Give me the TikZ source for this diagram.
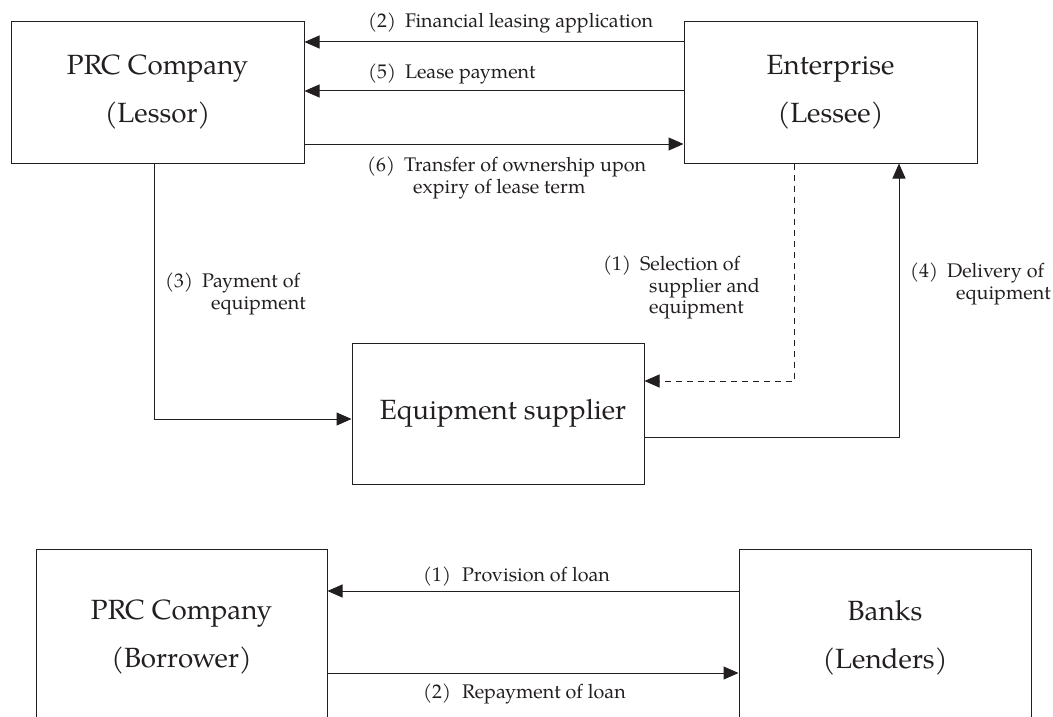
\documentclass[tikz,border=0pt]{standalone}
\usepackage{fontspec}
\setmainfont{TeX Gyre Pagella}
\usetikzlibrary{arrows.meta}
\definecolor{ink}{RGB}{35,31,32}
\tikzset{
  box/.style={draw=ink, line width=1pt, rectangle, align=center, inner sep=0pt,
    text=ink, font=\fontsize{27.8}{48}\selectfont},
  lab/.style={anchor=north west, inner sep=0pt, align=left, text=ink,
    font=\fontsize{19.7}{21.5}\selectfont},
  arr/.style={draw=ink, line width=1pt, -{Triangle[length=15pt,width=13pt]}},
  dash arr/.style={arr, dash pattern=on 6pt off 5pt}
}
\begin{document}
\begin{tikzpicture}[x=1pt,y=-1pt]
\useasboundingbox (0,0) rectangle (1053,717);
\clip (0,0) rectangle (1053,717);
\fill[white] (0,0) rectangle (1053,717);
% boxes
\node[box, minimum width=293pt, minimum height=141pt] (lessor) at (157.5,92.5) {PRC Company\\(Lessor)};
\node[box, minimum width=293pt, minimum height=141pt] (lessee) at (830.5,92.5) {Enterprise\\(Lessee)};
\node[box, minimum width=292pt, minimum height=141pt] (supplier) at (498,413.5) {\hspace{10pt}Equipment supplier};
\node[box, minimum width=291pt, minimum height=177pt] (borrower) at (181.5,637.5) {PRC Company\\(Borrower)};
\node[box, minimum width=292pt, minimum height=177pt] (banks) at (885,637.5) {Banks\\(Lenders)};
% connectors (top)
\draw[arr] (lessee.west |- 0,42) -- (lessor.east |- 0,42);
\draw[arr] (lessee.west |- 0,91) -- (lessor.east |- 0,91);
\draw[arr] (lessor.east |- 0,144) -- (lessee.west |- 0,144);
\draw[arr] (lessor.south -| 154,0) |- (supplier.west |- 0,419);
\draw[dash arr] (lessee.south -| 794,0) |- (supplier.east |- 0,381);
\draw[arr] (supplier.east |- 0,437) -| (lessee.south -| 899,0);
% connectors (bottom)
\draw[arr] (banks.west |- 0,591) -- (borrower.east |- 0,591);
\draw[arr] (borrower.east |- 0,673) -- (banks.west |- 0,673);
% labels
\node[lab] (l2) at (368,13) {(2)\hspace{9pt}Financial leasing application};
\node[lab] (l5) at (368,64) {(5)\hspace{9pt}Lease payment};
\node[lab] (l6) at (367,157) {(6)\hspace{9pt}Transfer of ownership upon\\\hspace*{46pt}expiry of lease term};
\node[lab] (l3) at (165,273) {(3)\hspace{9pt}Payment of\\\hspace*{46pt}equipment};
\node[lab] (l1) at (603,256) {(1)\hspace{9pt}Selection of\\\hspace*{46pt}supplier and\\\hspace*{46pt}equipment};
\node[lab] (l4) at (910,263) {(4)\hspace{9pt}Delivery of\\\hspace*{46pt}equipment};
\node[lab] (b1) at (423,567) {(1)\hspace{11pt}Provision of loan};
\node[lab] (b2) at (423,684) {(2)\hspace{11pt}Repayment of loan};
\end{tikzpicture}
\end{document}
